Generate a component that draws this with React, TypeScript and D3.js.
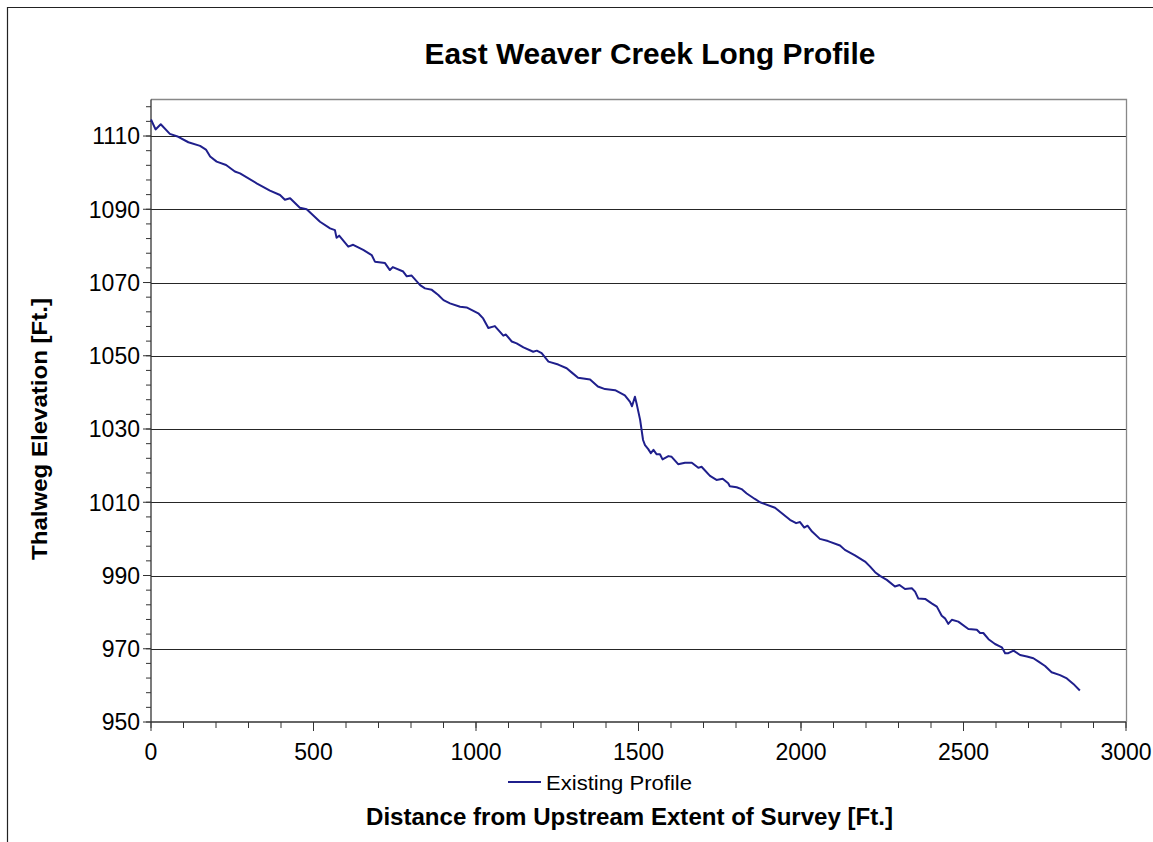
import React from "react";
import * as d3 from "d3";

const distance: number[] = [
  0, 14, 30, 58, 84, 115, 151, 169, 182, 202, 231, 258, 274, 325, 366, 397, 412, 428, 458, 479,
  520, 551, 566, 571, 579, 607, 622, 653, 679, 689, 720, 735, 744, 776, 787, 802, 828, 843, 864, 884,
  900, 920, 951, 971, 1007, 1022, 1038, 1058, 1069, 1084, 1092, 1110, 1125, 1146, 1176, 1187, 1202, 1223, 1253, 1279,
  1295, 1314, 1351, 1375, 1397, 1428, 1458, 1474, 1480, 1489, 1495, 1505, 1514, 1520, 1530, 1538, 1546, 1556, 1566, 1574,
  1592, 1602, 1622, 1643, 1664, 1684, 1694, 1720, 1740, 1759, 1776, 1781, 1802, 1817, 1833, 1858, 1874, 1920, 1966, 1985,
  1997, 2010, 2020, 2034, 2058, 2083, 2120, 2135, 2166, 2197, 2212, 2228, 2243, 2264, 2289, 2303, 2320, 2341, 2351, 2361,
  2382, 2402, 2418, 2433, 2443, 2453, 2464, 2484, 2515, 2541, 2551, 2561, 2577, 2597, 2618, 2628, 2638, 2654, 2674, 2695,
  2715, 2731, 2751, 2771, 2797, 2818, 2838, 2858,
];

const elevation: number[] = [
  1114.5, 1111.8, 1113.2, 1110.6, 1109.8, 1108.3, 1107.3, 1106.3, 1104.4, 1103.0, 1102.1, 1100.3, 1099.8, 1097.1, 1095.1, 1093.9, 1092.6, 1093.0, 1090.4, 1090.0,
  1086.6, 1084.8, 1084.3, 1082.2, 1082.8, 1079.8, 1080.3, 1078.9, 1077.5, 1075.7, 1075.3, 1073.4, 1074.2, 1073.0, 1071.7, 1071.9, 1069.3, 1068.4, 1068.0, 1066.6,
  1065.2, 1064.3, 1063.4, 1063.2, 1061.6, 1060.2, 1057.6, 1058.1, 1057.0, 1055.5, 1055.8, 1053.9, 1053.4, 1052.3, 1051.1, 1051.4, 1050.7, 1048.4, 1047.6, 1046.6,
  1045.4, 1044.0, 1043.5, 1041.6, 1040.9, 1040.6, 1039.2, 1037.4, 1036.2, 1038.8, 1036.6, 1032.5, 1027.0, 1025.6, 1024.5, 1023.4, 1024.3, 1023.1, 1023.1, 1021.7,
  1022.6, 1022.4, 1020.4, 1020.8, 1020.8, 1019.4, 1019.7, 1017.2, 1016.1, 1016.4, 1015.2, 1014.4, 1014.1, 1013.6, 1012.4, 1010.9, 1010.0, 1008.5, 1005.2, 1004.3,
  1004.6, 1003.1, 1003.6, 1002.0, 1000.0, 999.4, 998.2, 997.0, 995.5, 993.8, 992.5, 990.9, 989.9, 988.8, 987.0, 987.4, 986.3, 986.5, 985.6, 983.7,
  983.6, 982.4, 981.5, 979.0, 978.3, 976.8, 977.9, 977.4, 975.4, 975.2, 974.3, 974.3, 972.6, 971.3, 970.4, 968.8, 968.8, 969.5, 968.3, 967.9,
  967.4, 966.5, 965.3, 963.6, 962.8, 961.9, 960.4, 958.6,
];

const xMajorTicks: number[] = [0, 500, 1000, 1500, 2000, 2500, 3000];
const yMajorTicks: number[] = [950, 970, 990, 1010, 1030, 1050, 1070, 1090, 1110];

const title = "East Weaver Creek Long Profile";
const xTitle = "Distance from Upstream Extent of Survey [Ft.]";
const yTitle = "Thalweg Elevation [Ft.]";
const seriesName = "Existing Profile";

export default function App() {
  const W = 1153;
  const H = 842;
  const left = 151;
  const right = 1126;
  const top = 99.4;
  const bottom = 722;

  const x = d3.scaleLinear().domain([0, 3000]).range([left, right]);
  const y = d3.scaleLinear().domain([950, 1120]).range([bottom, top]);

  const xMinor = d3.range(0, 3001, 100);
  const yMinor = d3.range(950, 1120, 4);

  const pts = distance.map((d, i) => [d, elevation[i]] as [number, number]);
  const line = d3
    .line<[number, number]>()
    .x((d) => x(d[0]))
    .y((d) => y(d[1]));

  const font = "Arial, 'Liberation Sans', sans-serif";
  const lineColor = "#1f1f8c";

  return (
    <svg
      width={W}
      height={H}
      style={{ position: "absolute", left: 0, top: 0, background: "#fff" }}
      fontFamily={font}
    >
      <rect x={0} y={0} width={W} height={H} fill="#fff" />
      {/* outer chart border */}
      <path d={`M7.5,${H + 5} V7.5 H${W + 5}`} fill="none" stroke="#222" strokeWidth={1.2} />

      {/* title */}
      <text x={650} y={64} textAnchor="middle" fontSize={29} fontWeight="bold" fill="#000" textLength={451} lengthAdjust="spacingAndGlyphs">
        {title}
      </text>

      {/* gridlines */}
      {yMajorTicks
        .filter((t) => t !== 950)
        .map((t) => (
          <line key={"g" + t} x1={left} x2={right} y1={Math.round(y(t)) + 0.5} y2={Math.round(y(t)) + 0.5} stroke="#262626" strokeWidth={1} />
        ))}

      {/* plot border top/right */}
      <path d={`M${left},${Math.round(top) + 0.5} H${right + 0.5} V${bottom}`} fill="none" stroke="#888" strokeWidth={1.3} />

      {/* y minor ticks */}
      {yMinor.map((t) => (
        <line key={"ym" + t} x1={left - 5} x2={left} y1={y(t)} y2={y(t)} stroke="#333" strokeWidth={1} />
      ))}
      {/* y major ticks */}
      {yMajorTicks.map((t) => (
        <line key={"yM" + t} x1={left - 8} x2={left} y1={y(t)} y2={y(t)} stroke="#333" strokeWidth={1} />
      ))}
      {/* x minor ticks */}
      {xMinor.map((t) => (
        <line key={"xm" + t} x1={x(t)} x2={x(t)} y1={bottom} y2={bottom + 6} stroke="#333" strokeWidth={1} />
      ))}
      {xMajorTicks.map((t) => (
        <line key={"xM" + t} x1={x(t)} x2={x(t)} y1={bottom} y2={bottom + 9} stroke="#333" strokeWidth={1} />
      ))}

      {/* axes */}
      <line x1={left} x2={left} y1={top} y2={bottom} stroke="#333" strokeWidth={1.3} />
      <line x1={left} x2={right} y1={bottom} y2={bottom} stroke="#333" strokeWidth={1.3} />

      {/* y tick labels */}
      {yMajorTicks.map((t) => (
        <text key={"yl" + t} x={left - 11} y={y(t)} dy="0.36em" textAnchor="end" fontSize={23} fill="#000">
          {t}
        </text>
      ))}
      {/* x tick labels */}
      {xMajorTicks.map((t) => (
        <text key={"xl" + t} x={x(t)} y={760} textAnchor="middle" fontSize={23} fill="#000">
          {t}
        </text>
      ))}

      {/* data line */}
      <path d={line(pts) || ""} fill="none" stroke={lineColor} strokeWidth={2} strokeLinejoin="round" />

      {/* legend */}
      <line x1={508} x2={541} y1={782} y2={782} stroke={lineColor} strokeWidth={2} />
      <text x={546} y={790} fontSize={20} fill="#000" textLength={146} lengthAdjust="spacingAndGlyphs">
        {seriesName}
      </text>

      {/* axis titles */}
      <text x={629.5} y={825} textAnchor="middle" fontSize={23} fontWeight="bold" fill="#000" textLength={527} lengthAdjust="spacingAndGlyphs">
        {xTitle}
      </text>
      <text
        transform={`translate(47,429) rotate(-90)`}
        textAnchor="middle"
        fontSize={22}
        fontWeight="bold"
        fill="#000"
        textLength={262}
        lengthAdjust="spacingAndGlyphs"
      >
        {yTitle}
      </text>
    </svg>
  );
}
